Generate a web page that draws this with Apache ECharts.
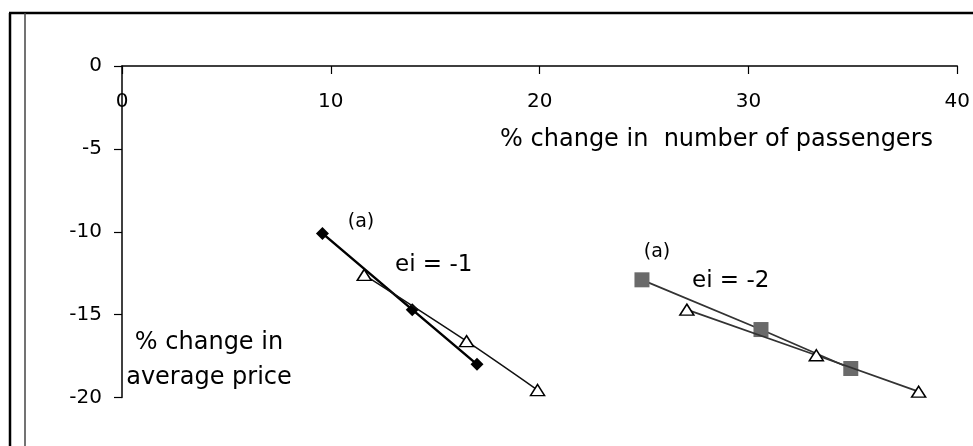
<!DOCTYPE html>
<html>
<head>
<meta charset="utf-8">
<script src="https://cdn.jsdelivr.net/npm/echarts@6/dist/echarts.min.js"></script>
<style>
html,body{margin:0;padding:0;background:#fff;}
#chart{width:973px;height:446px;}
</style>
</head>
<body>
<div id="chart"></div>
<script>
// Data
const xTicks = [0, 10, 20, 30, 40];
const yTicks = [0, -5, -10, -15, -20];
// ei = -1 : diamonds (a) and triangles
const ei1DiamondX = [9.6, 13.9, 17.0];
const ei1DiamondY = [-10.1, -14.7, -18.0];
const ei1TriangleX = [11.6, 16.5, 19.9];
const ei1TriangleY = [-12.6, -16.6, -19.55];
// ei = -2 : squares (a) and triangles
const ei2SquareX = [24.9, 30.6, 34.9];
const ei2SquareY = [-12.9, -15.9, -18.25];
const ei2TriangleX = [27.05, 33.25, 38.15];
const ei2TriangleY = [-14.7, -17.45, -19.65];

const xTitle = '% change in  number of passengers';
const yTitle = ['% change in', 'average price'];
const annotations = ['(a)', 'ei = -1', '(a)', 'ei = -2'];

const pairs = (xs, ys) => xs.map((x, i) => [x, ys[i]]);
const FONT = 'DejaVu Sans';

const chart = echarts.init(document.getElementById('chart'));
chart.setOption({
  animation: false,
  backgroundColor: '#fff',
  grid: { left: 122, right: 15, top: 66, bottom: 48.5, containLabel: false },
  xAxis: {
    type: 'value', position: 'top', min: xTicks[0], max: xTicks[xTicks.length - 1], interval: 10,
    axisLine: { show: true, onZero: false, lineStyle: { color: '#000', width: 1.5 } },
    axisTick: { show: true, inside: true, length: 8, lineStyle: { color: '#000', width: 1.2 } },
    axisLabel: { inside: true, margin: 26, color: '#000', fontFamily: FONT, fontSize: 20 },
    splitLine: { show: false }
  },
  yAxis: {
    type: 'value', min: yTicks[yTicks.length - 1], max: yTicks[0], interval: 5,
    axisLine: { show: true, onZero: false, lineStyle: { color: '#000', width: 1.5 } },
    axisTick: { show: true, inside: false, length: 8, lineStyle: { color: '#000', width: 1.2 } },
    axisLabel: { margin: 20, color: '#000', fontFamily: FONT, fontSize: 20 },
    splitLine: { show: false }
  },
  series: [
    {
      type: 'line', name: 'ei=-1 (a)', data: pairs(ei1DiamondX, ei1DiamondY),
      symbol: 'diamond', symbolSize: 13,
      itemStyle: { color: '#000' },
      lineStyle: { color: '#000', width: 2.5 }, z: 3
    },
    {
      type: 'line', name: 'ei=-1', data: pairs(ei1TriangleX, ei1TriangleY),
      symbol: 'triangle', symbolSize: [14, 11], smooth: 0.3,
      itemStyle: { color: '#fff', borderColor: '#000', borderWidth: 1.5 },
      lineStyle: { color: '#111', width: 1.5 }, z: 4
    },
    {
      type: 'line', name: 'ei=-2 (a)', data: pairs(ei2SquareX, ei2SquareY),
      symbol: 'rect', symbolSize: 15,
      itemStyle: { color: '#6a6a6a' },
      lineStyle: { color: '#333', width: 1.8 }, z: 3
    },
    {
      type: 'line', name: 'ei=-2', data: pairs(ei2TriangleX, ei2TriangleY),
      symbol: 'triangle', symbolSize: [14, 11],
      itemStyle: { color: '#fff', borderColor: '#000', borderWidth: 1.5 },
      lineStyle: { color: '#333', width: 1.8 }, z: 4
    }
  ],
  graphic: [
    // frame
    { type: 'line', shape: { x1: 9, y1: 13, x2: 973, y2: 13 }, style: { stroke: '#000', lineWidth: 2.5 } },
    { type: 'line', shape: { x1: 10, y1: 13, x2: 10, y2: 446 }, style: { stroke: '#000', lineWidth: 2.5 } },
    { type: 'line', shape: { x1: 25, y1: 13, x2: 25, y2: 446 }, style: { stroke: '#444', lineWidth: 1.5 } },
    // titles
    { type: 'text', x: 933, y: 140, style: { text: xTitle, fill: '#000', font: '24px "DejaVu Sans"', textAlign: 'right', textVerticalAlign: 'middle' } },
    { type: 'text', x: 209, y: 343, style: { text: yTitle[0], fill: '#000', font: '24px "DejaVu Sans"', textAlign: 'center', textVerticalAlign: 'middle' } },
    { type: 'text', x: 209, y: 378, style: { text: yTitle[1], fill: '#000', font: '24px "DejaVu Sans"', textAlign: 'center', textVerticalAlign: 'middle' } },
    // annotations
    { type: 'text', x: 361, y: 222, style: { text: annotations[0], fill: '#000', font: '19px "DejaVu Sans"', textAlign: 'center', textVerticalAlign: 'middle' } },
    { type: 'text', x: 395, y: 265, style: { text: annotations[1], fill: '#000', font: '23px "DejaVu Sans"', textAlign: 'left', textVerticalAlign: 'middle' } },
    { type: 'text', x: 657, y: 252, style: { text: annotations[2], fill: '#000', font: '19px "DejaVu Sans"', textAlign: 'center', textVerticalAlign: 'middle' } },
    { type: 'text', x: 692, y: 281, style: { text: annotations[3], fill: '#000', font: '23px "DejaVu Sans"', textAlign: 'left', textVerticalAlign: 'middle' } }
  ]
});
</script>
</body>
</html>
